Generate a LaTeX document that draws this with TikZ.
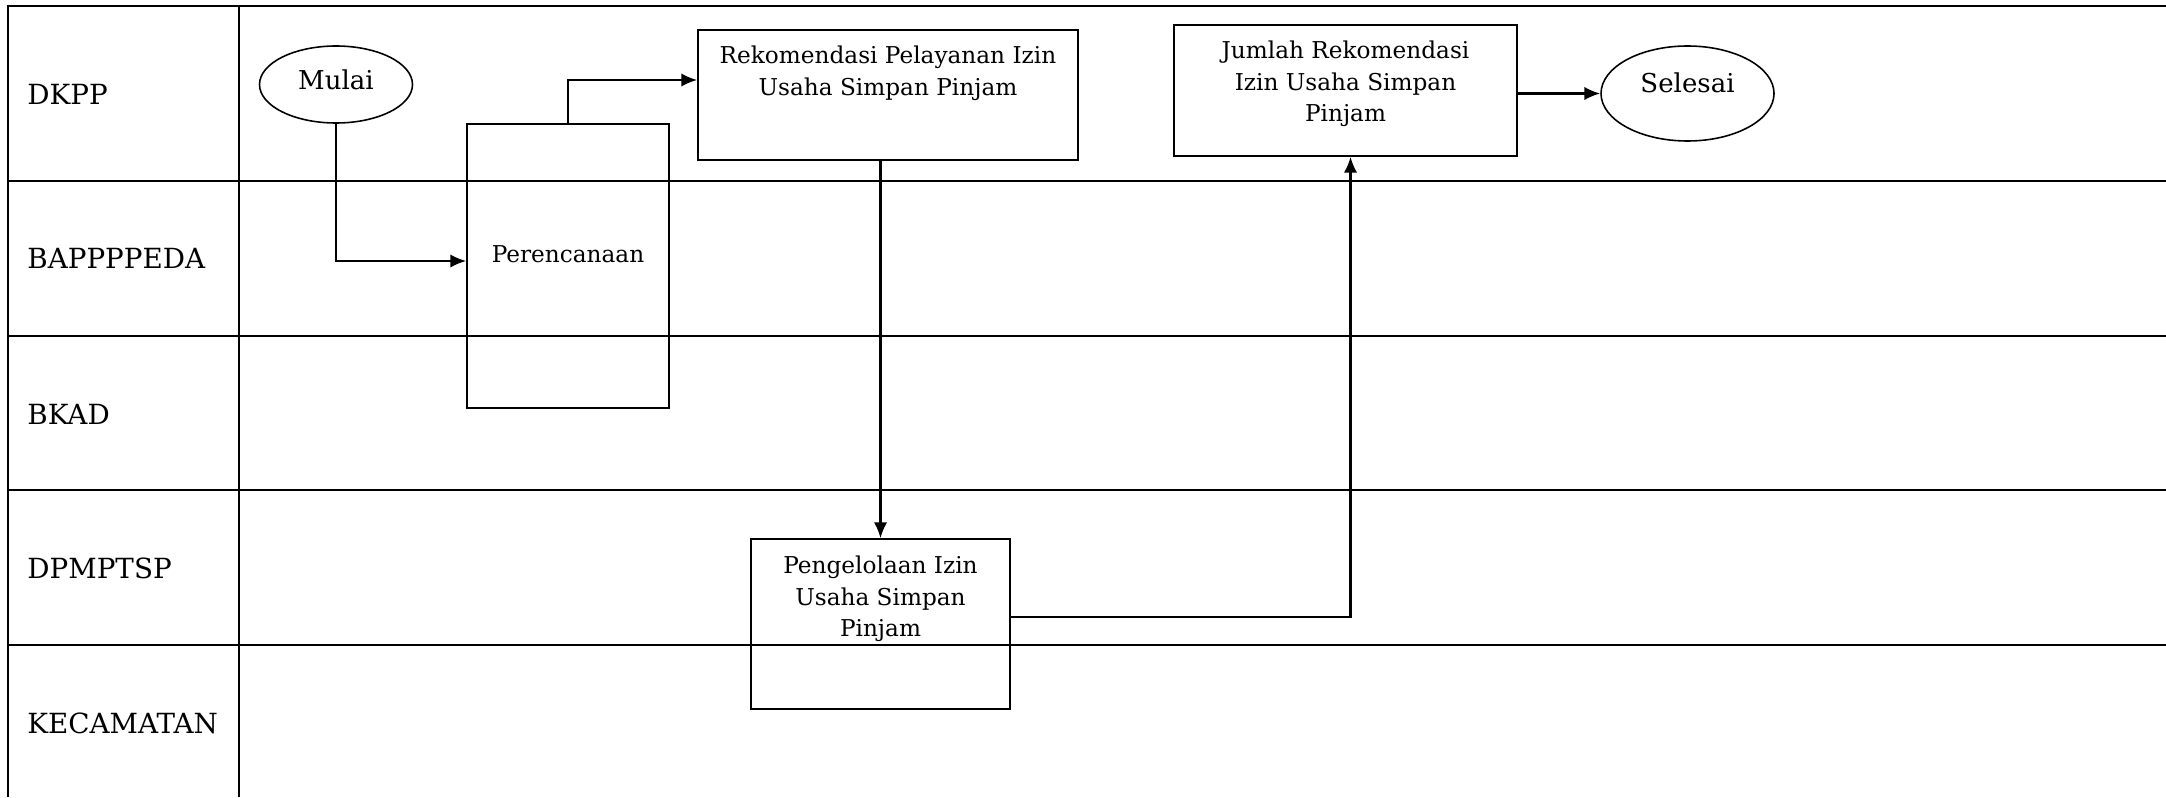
\documentclass[tikz,border=0pt]{standalone}
\usepackage{fontspec}
\setmainfont{DejaVu Serif}
\usepackage{tikz}
\usetikzlibrary{arrows.meta, shapes.geometric, positioning}

\tikzset{
    lane/.style={line width=0.6pt},
    lanelabel/.style={anchor=west, font=\fontsize{7.9}{10}\selectfont},
    box/.style={draw, line width=0.5pt, rectangle},
    terminal/.style={draw, line width=0.45pt, ellipse, inner sep=0pt, font=\fontsize{7.4}{9}\selectfont},
    boxtext/.style={align=center, inner sep=0pt, font=\fontsize{6.6}{9}\selectfont},
    flow/.style={line width=0.6pt, -{Latex[length=4.5pt,width=3.8pt]}}
}

\begin{document}
\begin{tikzpicture}
    \useasboundingbox (0,0) rectangle (21.66,-7.97);

    % Draw the lanes
    \draw[lane] (0.08,-7.97) -- (0.08,-0.06) -- (21.66,-0.06);
    \draw[lane] (2.39,-0.06) -- (2.39,-7.97);
    \foreach \y in {-1.81,-3.36,-4.90,-6.45} \draw[lane] (0.08,\y) -- (21.66,\y);

    % Lane labels
    \node[lanelabel] (dkpp) at (0.15,-0.94) {DKPP};
    \node[lanelabel] (bappppeda) at (0.15,-2.58) {BAPPPPEDA};
    \node[lanelabel] (bkad) at (0.15,-4.14) {BKAD};
    \node[lanelabel] (dpmptsp) at (0.15,-5.68) {DPMPTSP};
    \node[lanelabel] (kecamatan) at (0.15,-7.23) {KECAMATAN};

    % Steps
    \node[terminal, text depth=3pt, minimum width=1.53cm, minimum height=0.77cm] (mulai) at (3.36,-0.845) {Mulai};
    \node[box, minimum width=2.02cm, minimum height=2.84cm] (rencana) at (5.68,-2.66) {};
    \node[boxtext, yshift=1.2mm] (rencanatext) at (rencana.center) {Perencanaan};
    \node[box, minimum width=3.80cm, minimum height=1.30cm] (rekom) at (8.88,-0.95) {};
    \node[boxtext, below=0.16cm of rekom.north] (rekomtext) {Rekomendasi Pelayanan Izin\\Usaha Simpan Pinjam};
    \node[box, minimum width=2.59cm, minimum height=1.70cm] (kelola) at (8.805,-6.24) {};
    \node[boxtext, below=0.17cm of kelola.north] (kelolatext) {Pengelolaan Izin\\Usaha Simpan\\Pinjam};
    \node[box, minimum width=3.43cm, minimum height=1.31cm] (jumlah) at (13.455,-0.905) {};
    \node[boxtext, below=0.16cm of jumlah.north] (jumlahtext) {Jumlah Rekomendasi\\Izin Usaha Simpan\\Pinjam};
    \node[terminal, text depth=6pt, minimum width=1.73cm, minimum height=0.95cm] (selesai) at (16.875,-0.935) {Selesai};

    % Connectors
    \draw[flow] (mulai.south) |- ([yshift=0.5mm]rencana.west);
    \draw[flow] (rencana.north) |- ([yshift=1.5mm]rekom.west);
    \draw[flow] (rekom.south -| kelola.north) -- (kelola.north);
    \draw[flow] ([yshift=0.7mm]kelola.east) -| ([xshift=0.5mm]jumlah.south);
    \draw[flow] (jumlah.east |- selesai.west) -- (selesai.west);
\end{tikzpicture}
\end{document}
